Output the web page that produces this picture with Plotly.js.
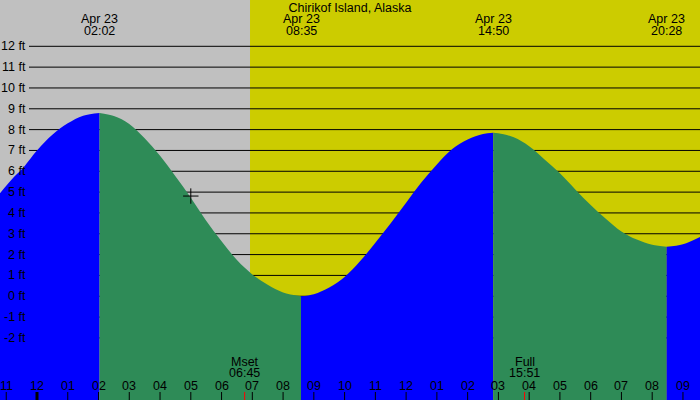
<!DOCTYPE html>
<html><head><meta charset="utf-8">
<script src="https://cdn.plot.ly/plotly-3.0.1.min.js"></script>
<style>html,body{margin:0;padding:0;background:#c0c0c0;overflow:hidden}</style>
</head><body><div id="chart" style="width:700px;height:400px"></div>
<script>
// ---- data ----
const chartTitle = "Chirikof Island, Alaska";
const eventDate = "Apr 23";
const eventTimes = [2.033, 8.583, 14.833, 20.467];      // hours
const eventLabels = ["02:02", "08:35", "14:50", "20:28"];

// tide curve, split at the extremes (hours, feet)
const seg1Times = [-1.25, -0.75, -0.5, 0, 0.5, 1.0, 1.5, 2.033];
const seg1Feet  = [4.86, 5.72, 6.08, 7.0, 7.75, 8.3, 8.67, 8.8];
const seg2Times = [2.033, 2.5, 3.0, 3.5, 4.0, 4.5, 5.0, 5.5, 6.0, 6.5, 7.0, 7.5, 8.0, 8.583];
const seg2Feet  = [8.8, 8.65, 8.27, 7.58, 6.74, 5.76, 4.73, 3.63, 2.64, 1.74, 1.05, 0.55, 0.18, 0.0];
const seg3Times = [8.583, 9.0, 9.5, 10.0, 10.5, 11.0, 11.5, 12.0, 12.5, 13.0, 13.5, 14.0, 14.5, 14.833];
const seg3Feet  = [0.0, 0.1, 0.42, 0.93, 1.68, 2.57, 3.5, 4.49, 5.47, 6.33, 7.07, 7.53, 7.79, 7.85];
const seg4Times = [14.833, 15.0, 15.5, 16.0, 16.5, 17.0, 17.5, 18.0, 18.5, 19.0, 19.5, 20.0, 20.467];
const seg4Feet  = [7.85, 7.83, 7.63, 7.2, 6.57, 5.9, 5.13, 4.38, 3.71, 3.11, 2.72, 2.47, 2.38];
const seg5Times = [20.467, 21.0, 21.6];
const seg5Feet  = [2.38, 2.5, 2.88];
const segRising = [true, false, true, false, true];

const hourTicks  = [-1,0,1,2,3,4,5,6,7,8,9,10,11,12,13,14,15,16,17,18,19,20,21];
const hourLabels = ["11","12","01","02","03","04","05","06","07","08","09","10","11","12","01","02","03","04","05","06","07","08","09"];
const ftLevels = [12,11,10,9,8,7,6,5,4,3,2,1,0,-1,-2];
const ftLabels = ["12 ft","11 ft","10 ft","9 ft","8 ft","7 ft","6 ft","5 ft","4 ft","3 ft","2 ft","1 ft","0 ft","-1 ft","-2 ft"];

const sunriseTime = 6.925;
const moonTimes  = [6.75, 15.85];
const moonNames  = ["Mset", "Full"];
const moonLabels = ["06:45", "15:51"];
const nowTime = 5.0, nowFeet = 4.81;

// ---- drawing ----
const FONT = {family: "Liberation Sans, Arial, sans-serif", size: 12.5, color: "#000"};
const XR = [-1.2029, 21.554];
const YR = [-4.981, 14.223];
const BASE = -6;
const segT = [seg1Times, seg2Times, seg3Times, seg4Times, seg5Times];
const segF = [seg1Feet, seg2Feet, seg3Feet, seg4Feet, seg5Feet];

const traces = [];
segT.forEach((t, i) => {
  traces.push({x: [t[0], t[t.length-1]], y: [BASE, BASE], mode: "lines",
    line: {width: 0}, hoverinfo: "skip", showlegend: false});
  traces.push({x: t, y: segF[i], mode: "lines", fill: "tonexty",
    fillcolor: segRising[i] ? "#0000ff" : "#2e8b57",
    line: {width: 0, shape: "spline", smoothing: 1}, hoverinfo: "skip", showlegend: false});
});
traces.push({x: [nowTime], y: [nowFeet], mode: "markers",
  marker: {symbol: "cross-thin", size: 11, line: {width: 1, color: "#000"}},
  hoverinfo: "skip", showlegend: false});

const shapes = [];
shapes.push({type: "rect", xref: "x", yref: "paper", x0: -3, x1: sunriseTime, y0: 0, y1: 1,
  fillcolor: "#c0c0c0", line: {width: 0}, layer: "below"});
shapes.push({type: "rect", xref: "x", yref: "paper", x0: sunriseTime, x1: 25, y0: 0, y1: 1,
  fillcolor: "#cccc00", line: {width: 0}, layer: "below"});
ftLevels.forEach(v => shapes.push({type: "line", xref: "paper", yref: "y",
  x0: 29/700, x1: 1, y0: v, y1: v, line: {color: "#000", width: 1}, layer: "below"}));
hourTicks.forEach(h => shapes.push({type: "line", xref: "x", yref: "paper",
  x0: h, x1: h, y0: 0, y1: 8/400, line: {color: "#000", width: h === 0 ? 3 : 1}}));
moonTimes.forEach(h => shapes.push({type: "line", xref: "x", yref: "paper",
  x0: h, x1: h, y0: 0, y1: 8/400, line: {color: "#ff0000", width: 1}}));

const annotations = [];
const ann = (o) => annotations.push(Object.assign({showarrow: false, font: FONT,
  xanchor: "center", yanchor: "middle", borderpad: 0}, o));
ftLevels.forEach((v, i) => ann({text: ftLabels[i], xref: "paper", yref: "y",
  x: 27/700, y: v, xanchor: "right"}));
hourTicks.forEach((h, i) => ann({text: hourLabels[i], xref: "x", yref: "paper",
  x: h, y: (400-385.5)/400}));
eventTimes.forEach((h, i) => {
  ann({text: eventDate, xref: "x", yref: "paper", x: h, y: (400-19.5)/400});
  ann({text: eventLabels[i], xref: "x", yref: "paper", x: h, y: (400-31.5)/400});
});
moonTimes.forEach((h, i) => {
  ann({text: moonNames[i], xref: "x", yref: "paper", x: h, y: (400-361.5)/400});
  ann({text: moonLabels[i], xref: "x", yref: "paper", x: h, y: (400-373.3)/400});
});

const layout = {
  width: 700, height: 400,
  margin: {l: 0, r: 0, t: 0, b: 0, pad: 0},
  paper_bgcolor: "#c0c0c0", plot_bgcolor: "#c0c0c0",
  title: {text: chartTitle, font: FONT, x: 0.5, xanchor: "center",
    y: 1 - 7.5/400, yanchor: "middle", yref: "container"},
  xaxis: {range: XR, visible: false, fixedrange: true},
  yaxis: {range: YR, visible: false, fixedrange: true},
  shapes: shapes, annotations: annotations, showlegend: false
};
Plotly.newPlot("chart", traces, layout, {staticPlot: true, displayModeBar: false});
</script></body></html>
